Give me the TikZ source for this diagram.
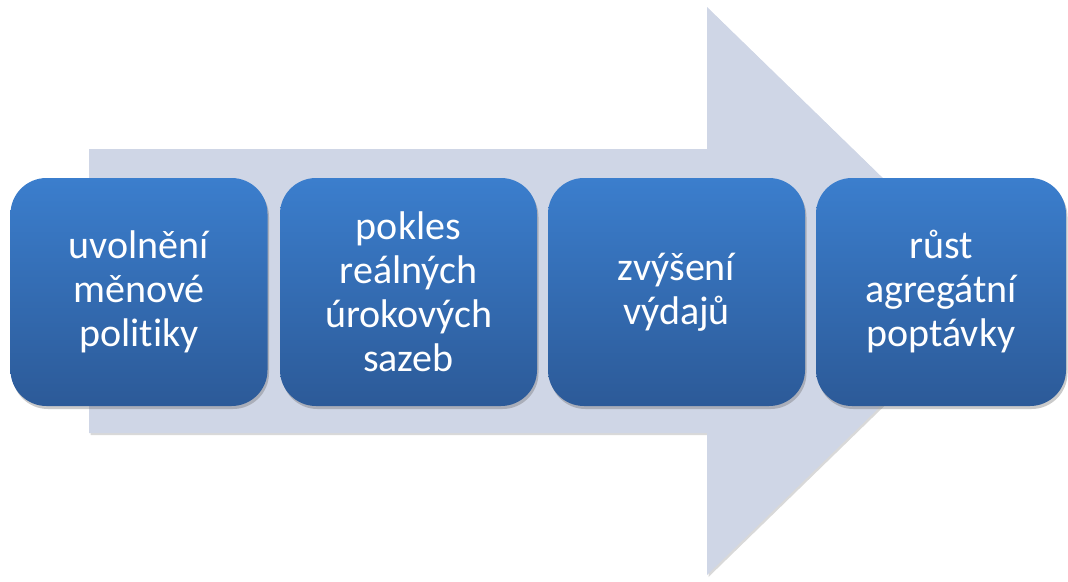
\documentclass[tikz,border=0pt]{standalone}
\usepackage{fontspec}
\setmainfont{Carlito}[RawFeature={-liga;-clig;-calt;-dlig}]
\usetikzlibrary{shadows}
\definecolor{arrowfill}{RGB}{207,214,230}
\definecolor{boxtop}{RGB}{59,126,205}
\definecolor{boxbottom}{RGB}{44,90,152}
\tikzset{
  stepbox/.style={draw=none, rounded corners=36pt, top color=boxtop, bottom color=boxbottom,
    minimum height=228, text=white, align=center, inner sep=0pt,
    font=\fontsize{40}{44}\selectfont,
    drop shadow={shadow xshift=1.5pt, shadow yshift=-3pt, opacity=0.35, fill=black!60}},
  bigarrow/.style={fill=arrowfill,
    drop shadow={shadow xshift=1.5pt, shadow yshift=-2pt, opacity=0.3, fill=black!50}}
}
\begin{document}
\begin{tikzpicture}[x=1pt,y=-1pt]
\useasboundingbox (0,0) rectangle (1068,581);
% background arrow
\path[bigarrow] (89,149) -- (707,149) -- (707,7) -- (999,291) -- (707,575) -- (707,433) -- (89,433) -- cycle;
% process steps
\node[stepbox, minimum width=257] (s1) at (139,292) {uvolnění\\měnové\\polit\kern0pt iky};
\node[stepbox, minimum width=257] (s2) at (408.5,292) {pokles\\reálných\\úrokových\\sazeb};
\node[stepbox, minimum width=257] (s3) at (676.5,292) {zvýšení\\výdajů};
\node[stepbox, minimum width=250] (s4) at (941,292) {růst\\agregátní\\poptávky};
\end{tikzpicture}
\end{document}
